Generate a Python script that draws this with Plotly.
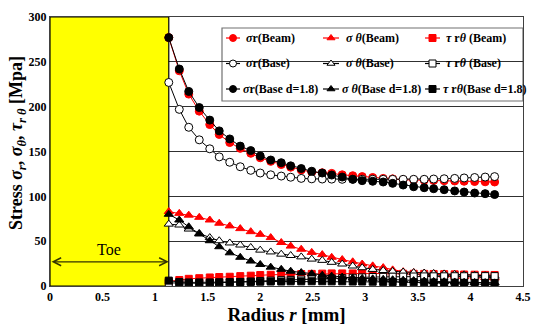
import plotly.graph_objects as go

# radius r [mm]
radius = [1.13, 1.23, 1.32, 1.42, 1.52, 1.61, 1.71, 1.81, 1.91, 2.00, 2.10, 2.20, 2.29,
          2.39, 2.49, 2.59, 2.68, 2.78, 2.88, 2.97, 3.07, 3.17, 3.26, 3.36, 3.46, 3.56,
          3.65, 3.75, 3.85, 3.94, 4.04, 4.14, 4.23]

sr_beam = [277, 240, 214, 195, 180, 169, 160, 153.5, 148, 143, 139, 135.5, 132.5, 129.5,
           127, 126.3, 125.6, 124, 123, 122, 121, 120, 119.5, 118.5, 118.2, 118, 117.7,
           117.4, 117.1, 116.8, 116.5, 116.2, 116]
st_beam = [83, 81, 79, 76.6, 73.6, 70, 67, 64, 60.6, 57.6, 54, 48.5, 44.5, 41, 37.5, 35,
           32, 29.5, 27, 24.5, 22.5, 20.5, 18, 16, 15, 14, 13, 12, 11, 10.5, 10, 9.5, 9]
tau_beam = [5, 6.7, 8, 8.7, 9.5, 10, 10.3, 11, 11.5, 12.2, 12.5, 12.8, 13, 13.3, 13.5, 13.8,
            14, 14, 14, 14, 14, 13.9, 13.8, 13.7, 13.6, 13.5, 13.4, 13.2, 13, 12.8, 12.6,
            12.4, 12.3]

sr_base = [227, 197, 177, 163, 153, 144, 138, 133, 129, 126, 124, 122.6, 121.3, 120, 119.5,
           119.3, 119.2, 119, 119, 119, 119, 119, 119, 119, 119, 119, 119.3, 119.6, 120,
           120.5, 121, 121.5, 122]
st_base = [69, 68, 63.5, 58.7, 54, 50.5, 48, 45.7, 43, 40, 38, 35.5, 34, 32.5, 30, 28.6,
           26.4, 24.5, 22.3, 20.4, 18.5, 17.3, 16.3, 15.6, 15, 14.5, 14, 13.5, 13, 12.5,
           12, 11.5, 11]
tau_base = [3.5, 3.2, 3, 3, 3.2, 3.5, 4, 4.5, 5, 5.5, 6, 6.5, 6.8, 7.2, 7.6, 8, 8.4, 8.8,
            9.2, 9.6, 10, 10.2, 10.4, 10.5, 10.6, 10.7, 10.8, 10.8, 10.9, 10.9, 11, 11, 11]

sr_d18 = [277, 242, 217, 199, 185, 173, 164, 156, 151, 145, 140.5, 137.5, 134, 131, 128,
          126, 123.7, 121.5, 119, 117.5, 116.8, 116, 114.5, 112.6, 110.7, 109.6, 108.5,
          107.4, 106, 104.8, 103.7, 103, 102]
st_d18 = [80, 73.6, 66, 58, 50.5, 43.8, 37, 32, 27.8, 24, 21, 18.6, 16.5, 15, 13.6, 12, 11,
          10, 9, 8.5, 8, 7.5, 7, 6.5, 6, 5.5, 5, 4.8, 4.5, 4.2, 4, 3.8, 3.5]
tau_d18 = [6, 4.5, 4, 4, 4, 4.2, 4.3, 4.5, 4.6, 4.8, 5, 5, 5.2, 5.2, 5.3, 5.3, 5.2, 5.2, 5,
           5, 4.8, 4.6, 4.5, 4.3, 4.2, 4, 3.9, 3.8, 3.7, 3.6, 3.5, 3.5, 3.4]

toe_end = 1.13
toe_arrow_y = 27
toe_label = "Toe"

x_ticks = [0, 0.5, 1, 1.5, 2, 2.5, 3, 3.5, 4, 4.5]
y_ticks = [0, 50, 100, 150, 200, 250, 300]

x_title = "Radius <i>r</i> [mm]"
y_title = "Stress <i>σ<sub>r</sub></i>, <i>σ<sub>θ</sub></i>, <i>τ<sub>r θ</sub></i> [Mpa]"

FONT = "Liberation Serif"
RED = "#ff0000"
BLK = "#000000"

# (legend text, values, line colour, marker symbol, marker fill)
series = [
    ("<i>σ</i>r(Beam)", sr_beam, RED, "circle", RED),
    ("<i>σ θ</i>(Beam)", st_beam, RED, "triangle-up", RED),
    ("<i>τ</i> r<i>θ</i> (Beam)", tau_beam, RED, "square", RED),
    ("<i>σ</i>r(Base)", sr_base, BLK, "circle", "#ffffff"),
    ("<i>σ θ</i>(Base)", st_base, BLK, "triangle-up", "#ffffff"),
    ("<i>τ</i> r<i>θ</i> (Base)", tau_base, BLK, "square", "#ffffff"),
    ("<i>σ</i>r(Base d=1.8)", sr_d18, BLK, "circle", BLK),
    ("<i>σ θ</i>(Base d=1.8)", st_d18, BLK, "triangle-up", BLK),
    ("<i>τ</i> r<i>θ</i>(Base d=1.8)", tau_d18, BLK, "square", BLK),
]

# ---- layout geometry (pixels) ----
W, H = 535, 325
ML, MR, MT, MB = 50, 12, 17, 39
PW, PH = W - ML - MR, H - MT - MB


def fx(px):
    return (px - ML) / PW


def fy(py):
    return (H - MB - py) / PH


LEG_BOX = (222, 28, 523, 101)            # left, top, right, bottom
LEG_COLS = [(226, 240), (323, 339), (425, 440)]  # sample line start / end
LEG_ROWS = [38, 63.5, 89]
LEG_TEXT_X = [[245, 345, 445], [245, 345, 445], [242, 341, 442]]

fig = go.Figure()
for name, vals, col, sym, fill in series:
    size = 7 if sym == "square" else 8
    fig.add_trace(go.Scatter(
        x=radius, y=vals, name=name, mode="lines+markers",
        line=dict(color=col, width=1),
        marker=dict(symbol=sym, size=size, color=fill,
                    line=dict(color=col, width=1)),
        showlegend=False, hoverinfo="x+y+name",
    ))

# ---- hand-drawn legend on an overlay axis pair spanning the plot area ----
for i, (name, vals, col, sym, fill) in enumerate(series):
    r, c = divmod(i, 3)
    x0, x1 = LEG_COLS[c]
    py = LEG_ROWS[r]
    fig.add_trace(go.Scatter(
        x=[fx(x0), fx(x1)], y=[fy(py), fy(py)], mode="lines",
        line=dict(color=col, width=1.2), xaxis="x2", yaxis="y2",
        showlegend=False, hoverinfo="skip"))
    fig.add_trace(go.Scatter(
        x=[fx((x0 + x1) / 2)], y=[fy(py)], mode="markers",
        marker=dict(symbol=sym, size=7, color=fill, line=dict(color=col, width=1)),
        xaxis="x2", yaxis="y2", showlegend=False, hoverinfo="skip"))
    fig.add_annotation(x=fx(LEG_TEXT_X[r][c]), y=fy(py), xref="paper", yref="paper",
                       text=name, showarrow=False, xanchor="left", yanchor="middle",
                       borderpad=0,
                       font=dict(family=FONT, size=12, color="#000000", weight="bold"))

fig.add_shape(type="rect", xref="paper", yref="paper",
              x0=fx(LEG_BOX[0]), x1=fx(LEG_BOX[2]), y0=fy(LEG_BOX[3]), y1=fy(LEG_BOX[1]),
              fillcolor="#ffffff", line=dict(color="#707070", width=1.2), layer="between")

fig.add_shape(type="rect", xref="x", yref="y", x0=0, x1=toe_end, y0=0, y1=300,
              fillcolor="#ffff00", line=dict(color="#000000", width=1.2),
              layer="between")

fig.add_annotation(x=toe_end, y=toe_arrow_y, ax=0, ay=toe_arrow_y,
                   xref="x", yref="y", axref="x", ayref="y",
                   text="", showarrow=True, arrowhead=5, startarrowhead=5,
                   arrowside="end+start", arrowsize=1.3, startarrowsize=1.3,
                   arrowwidth=1.2, arrowcolor="#333300")
fig.add_annotation(x=toe_end / 2, y=toe_arrow_y + 14, text=toe_label, showarrow=False,
                   font=dict(family=FONT, size=16, color="#000000"))

# y-axis title as a rotated annotation (placed slightly below the plot centre, as in the original)
fig.add_annotation(x=fx(17), y=fy(143), xref="paper", yref="paper", text=y_title,
                   textangle=-90, showarrow=False, xanchor="center", yanchor="middle",
                   font=dict(family=FONT, size=18, color="#000000", weight="bold"))

fig.update_layout(
    width=W, height=H,
    margin=dict(l=ML, r=MR, t=MT, b=MB, autoexpand=False),
    paper_bgcolor="#ffffff", plot_bgcolor="#ffffff",
    font=dict(family=FONT, color="#000000"),
    showlegend=False,
    xaxis=dict(
        range=[0, 4.5], tickvals=x_ticks, ticktext=[f"{v:g}" for v in x_ticks],
        showgrid=False, zeroline=False, showline=True, linecolor="#404040",
        linewidth=1, mirror=True, ticks="", automargin=False,
        tickfont=dict(family=FONT, size=12, weight="bold"),
        title=dict(text=x_title, standoff=0,
                   font=dict(family=FONT, size=19, weight="bold")),
    ),
    yaxis=dict(
        range=[0, 300], tickvals=y_ticks,
        showgrid=True, gridcolor="#303030", gridwidth=1,
        zeroline=False, showline=True, linecolor="#404040", linewidth=1,
        mirror=True, ticks="", automargin=False,
        tickfont=dict(family=FONT, size=12, weight="bold"),
    ),
    xaxis2=dict(overlaying="x", range=[0, 1], visible=False, fixedrange=True),
    yaxis2=dict(overlaying="y", range=[0, 1], visible=False, fixedrange=True),
)

fig.write_html("out.html", config={"displayModeBar": False},
               post_script="document.body.style.margin='0';document.body.style.overflow='hidden';")
